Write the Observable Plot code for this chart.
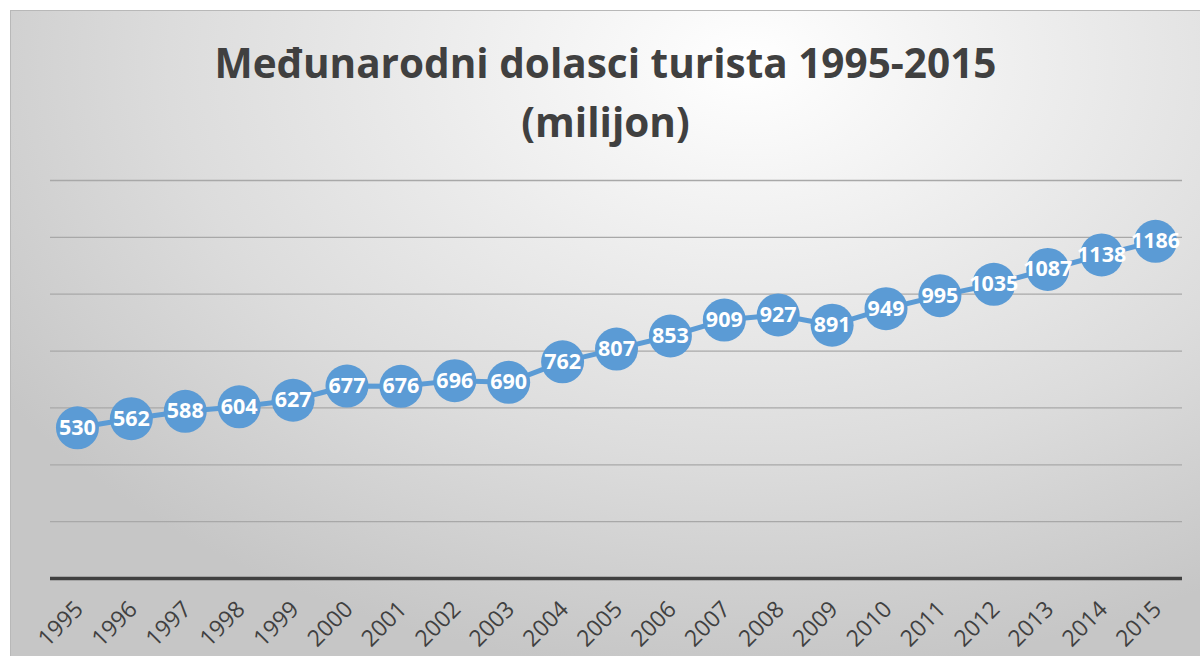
<!DOCTYPE html>
<html>
<head>
<meta charset="utf-8">
<script src="https://cdn.jsdelivr.net/npm/d3@7"></script>
<script src="https://cdn.jsdelivr.net/npm/@observablehq/plot@0.6"></script>
<style>
  html, body { margin: 0; padding: 0; background: #ffffff; }
  #frame {
    position: absolute; left: 10px; top: 10px;
    width: 1189px; height: 645px;
    border: 1px solid #b8b8b8; border-right: none; border-bottom: none;
    background: radial-gradient(ellipse 75% 95% at 62% 8%, #ffffff 0%, #ececec 35%, #dcdcdc 65%, #c6c6c6 100%);
    overflow: hidden;
  }
  #title {
    height: 139px; box-sizing: border-box; padding-top: 22px;
    text-align: center; font-family: "Open Sans", sans-serif; font-weight: 700;
    font-size: 40.5px; line-height: 59px; color: #404040;
  }
  svg { display: block; background: transparent !important; }
</style>
</head>
<body>
<div id="frame">
  <div id="title">Međunarodni dolasci turista 1995-2015<br>(milijon)</div>
  <div id="chart"></div>
</div>
<script>
const years = ["1995","1996","1997","1998","1999","2000","2001","2002","2003","2004","2005","2006","2007","2008","2009","2010","2011","2012","2013","2014","2015"];
const arrivals = [530,562,588,604,627,677,676,696,690,762,807,853,909,927,891,949,995,1035,1087,1138,1186];
const gridValues = [200,400,600,800,1000,1200,1400];

const data = years.map((y, i) => ({year: y, value: arrivals[i]}));

const chart = Plot.plot({
  width: 1189,
  height: 505,
  marginLeft: 39,
  marginRight: 18,
  marginTop: 30,
  marginBottom: 77,
  style: {background: "transparent", fontFamily: "Open Sans, sans-serif", overflow: "visible"},
  x: {type: "point", domain: years, padding: 0.5, round: false, axis: null},
  y: {domain: [0, 1400], axis: null},
  marks: [
    Plot.ruleY(gridValues, {stroke: "#a8a8a8", strokeWidth: 1.3}),
    Plot.ruleY([0], {stroke: "#404040", strokeWidth: 3.5}),
    Plot.text(years, {x: d => d, y: 0, text: d => d, rotate: -45, textAnchor: "end", lineAnchor: "middle", dx: 2, dy: 27, fontSize: 23, fill: "#404040"}),
    Plot.line(data, {x: "year", y: "value", stroke: "#5B9BD5", strokeWidth: 5}),
    Plot.dot(data, {x: "year", y: "value", r: 21.5, fill: "#5B9BD5", stroke: "none"}),
    Plot.text(data, {x: "year", y: "value", text: d => String(d.value), fill: "#ffffff", fontWeight: "bold", fontSize: 21.5, fontFamily: "Open Sans, sans-serif"})
  ]
});
document.getElementById("chart").appendChild(chart);
</script>
</body>
</html>
